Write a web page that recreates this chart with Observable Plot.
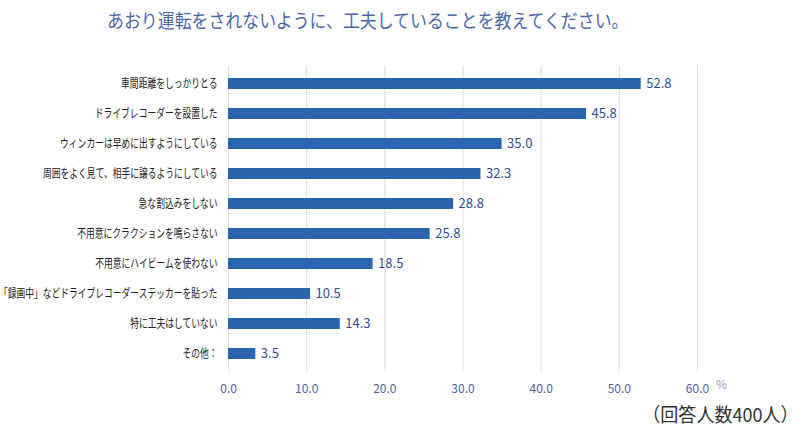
<!DOCTYPE html>
<html><head><meta charset="utf-8">
<script src="https://cdn.jsdelivr.net/npm/d3@7"></script>
<script src="https://cdn.jsdelivr.net/npm/@observablehq/plot@0.6"></script>
<style>
body{margin:0;background:#fff;font-family:"Noto Sans CJK JP",sans-serif;}
#wrap{position:relative;width:800px;height:439px;overflow:hidden;}
#title{position:absolute;left:107px;top:6px;font-size:19px;color:#4a68ad;white-space:nowrap;transform:scaleX(0.89);transform-origin:0 0;}
#note{position:absolute;right:1px;top:400px;font-size:19px;color:#333;white-space:nowrap;transform:scaleX(0.95);transform-origin:100% 0;}
#pct{position:absolute;left:716px;top:375px;font-size:12px;color:#8a9cc6;}
#chart{position:absolute;left:0;top:0;}
</style></head>
<body><div id="wrap">
<div id="chart"></div>
<div id="title">あおり運転をされないように、工夫していることを教えてください。</div>
<div id="pct">%</div>
<div id="note">（回答人数400人）</div>
</div>
<script>
const categories = ["車間距離をしっかりとる","ドライブレコーダーを設置した","ウィンカーは早めに出すようにしている","周囲をよく見て、相手に譲るようにしている","急な割込みをしない","不用意にクラクションを鳴らさない","不用意にハイビームを使わない","「録画中」などドライブレコーダーステッカーを貼った","特に工夫はしていない","その他："];
const values = [52.8,45.8,35.0,32.3,28.8,25.8,18.5,10.5,14.3,3.5];
const xTicks = [0,10,20,30,40,50,60];
const data = categories.map((c,i)=>({cat:c,val:values[i]}));
const chart = Plot.plot({
  width:800, height:439,
  marginLeft:228, marginRight:103, marginTop:66, marginBottom:68,
  style:{fontFamily:"Noto Sans CJK JP, sans-serif",background:"transparent"},
  x:{domain:[0,60], label:null},
  y:{domain:categories, paddingInner:0.64, paddingOuter:0.33, label:null},
  marks:[
    Plot.gridX({ticks:xTicks, stroke:"#dcdcdc", strokeOpacity:1}),
    Plot.barX(data,{x:"val", y:"cat", fill:"#2a64ad"}),
    Plot.text(data,{x:"val", y:"cat", text:d=>d.val.toFixed(1), dx:5, textAnchor:"start", fill:"#2d4f96", fontSize:13}),
    Plot.axisX({ticks:xTicks, tickFormat:d=>d.toFixed(1), tickSize:0, tickPadding:13, fill:"#4a62a0", fontSize:12, label:null}),
    Plot.axisY({tickSize:0, tickPadding:11, fill:"#222", fontSize:12, label:null})
  ]
});
document.getElementById("chart").appendChild(chart);
// horizontally condense the category labels like the reference font
chart.querySelectorAll("g[aria-label='y-axis tick label'] text").forEach(t=>{
  const w = t.getComputedTextLength();
  t.setAttribute("textLength", (w*0.73).toFixed(1));
  t.setAttribute("lengthAdjust","spacingAndGlyphs");
});
</script>
</body></html>
